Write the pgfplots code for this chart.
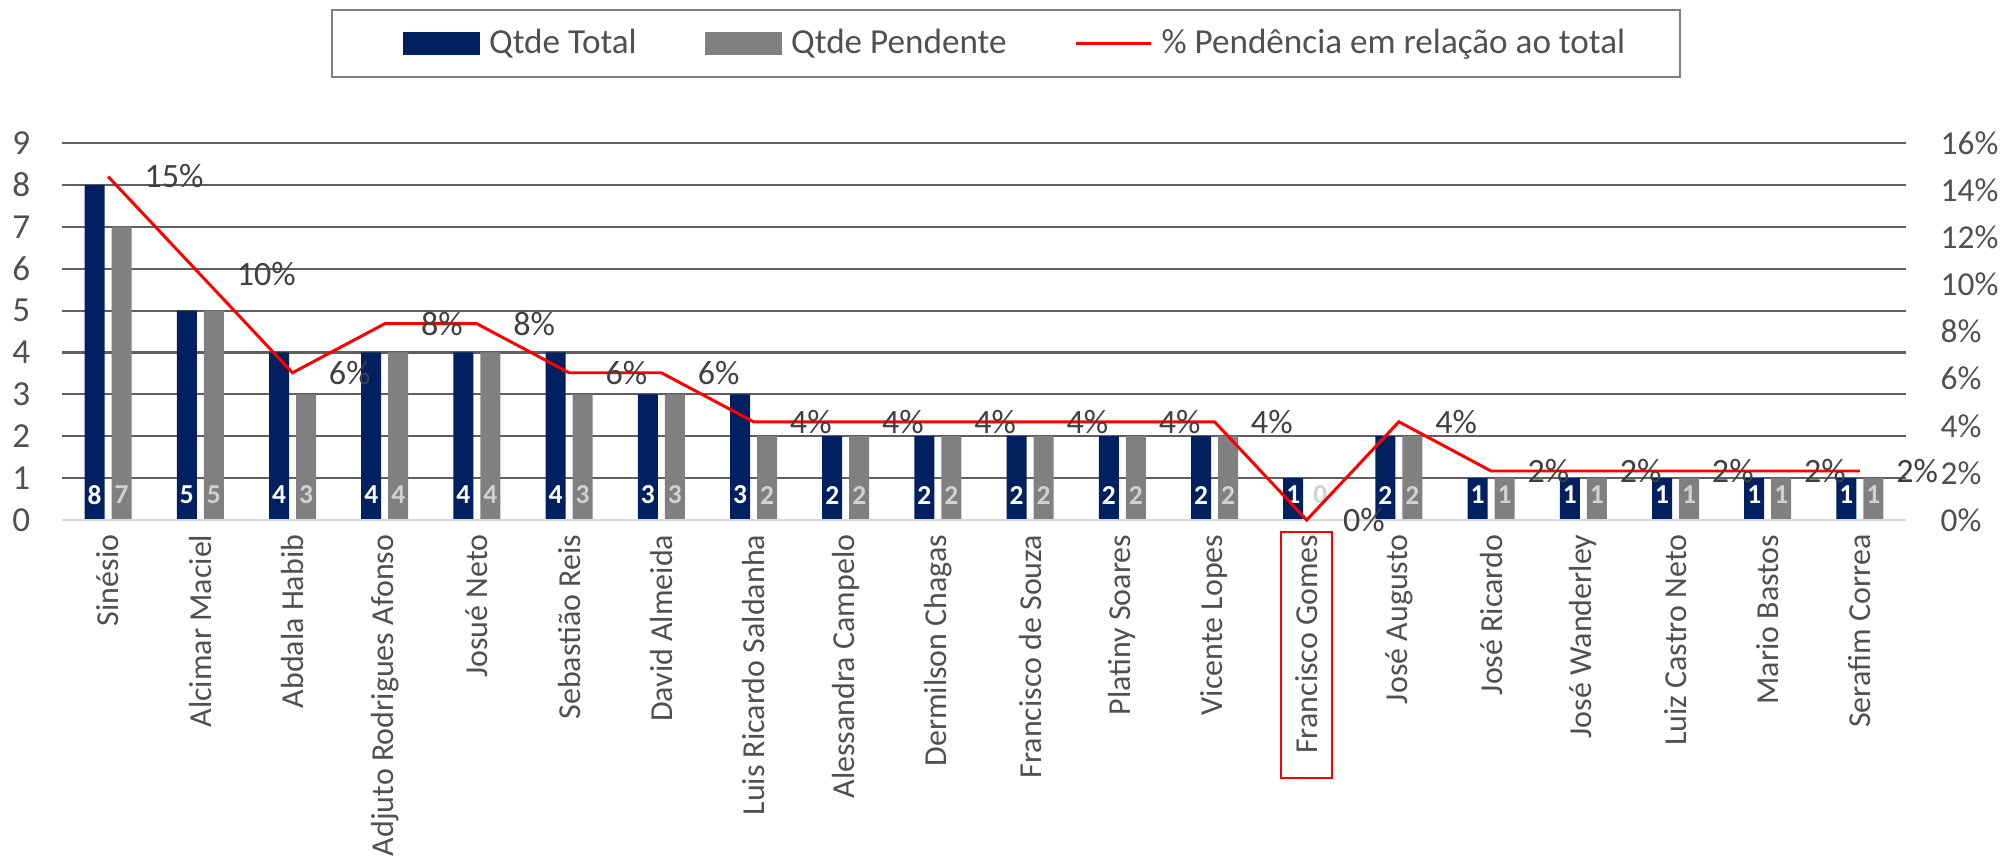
\documentclass[border=0pt]{standalone}
\usepackage{fontspec}
\setmainfont{Carlito}
\usepackage{pgfplots}
\usepackage{pgfplotstable}
\pgfplotsset{compat=1.18}

\definecolor{navy}{HTML}{002060}
\definecolor{bargray}{HTML}{808080}
\definecolor{tickgray}{HTML}{505050}
\definecolor{lblgray}{HTML}{404040}
\definecolor{gridgray}{HTML}{5F5F5F}
\definecolor{basegray}{HTML}{D9D9D9}
\definecolor{boxgray}{HTML}{7F7F7F}

% idx, Qtde Total, Qtde Pendente, % pendencia
\pgfplotstableread{
idx total pend pct
0  8 7 14.58
1  5 5 10.42
2  4 3 6.25
3  4 4 8.33
4  4 4 8.33
5  4 3 6.25
6  3 3 6.25
7  3 2 4.17
8  2 2 4.17
9  2 2 4.17
10 2 2 4.17
11 2 2 4.17
12 2 2 4.17
13 1 0 0
14 2 2 4.17
15 1 1 2.08
16 1 1 2.08
17 1 1 2.08
18 1 1 2.08
19 1 1 2.08
}\datatable

\pgfplotsset{
  base/.style={
    scale only axis, width=184.4mm, height=37.7mm,
    at={(0,0)}, anchor=south west,
    xmin=-0.5, xmax=19.5, clip=false,
    axis line style={draw=none}, tick style={draw=none},
    /pgf/number format/assume math mode=true,
  },
}

\begin{document}
\begin{tikzpicture}
\useasboundingbox (-6.2mm,-33.6mm) rectangle (194.0mm,52.0mm);

\begin{axis}[base,
  ymin=0, ymax=9, ytick={0,...,9},
  ymajorgrids, grid style={gridgray, line width=0.6pt},
  xtick={0,...,19},
  xticklabels={Sinésio, Alcimar Maciel, Abdala Habib, Adjuto Rodrigues Afonso,
    Josué Neto, Sebastião Reis, David Almeida, Luis Ricardo Saldanha,
    Alessandra Campelo, Dermilson Chagas, Francisco de Souza, Platiny Soares,
    Vicente Lopes, Francisco Gomes, José Augusto, José Ricardo, José Wanderley,
    Luiz Castro Neto, Mario Bastos, Serafim Correa},
  xticklabel style={rotate=90, anchor=east, inner sep=0pt,
    font=\fontsize{9.1}{10}\selectfont, text=tickgray},
  xticklabel shift=1.4mm,
  yticklabel style={anchor=east, inner sep=0pt,
    font=\fontsize{10}{11}\selectfont, text=tickgray},
  yticklabel shift=3.1mm,
]
\addplot[ybar, bar width=2mm, bar shift=-1.35mm, fill=navy, draw=none]
  table[x=idx, y=total]{\datatable};
\addplot[ybar, bar width=2mm, bar shift=1.35mm, fill=bargray, draw=none]
  table[x=idx, y=pend]{\datatable};
\draw[basegray, line width=0.8pt] (axis cs:-0.5,0) -- (axis cs:19.5,0);

% valores dentro das barras
\addplot[draw=none, mark=none, nodes near coords, point meta=explicit,
  nodes near coords style={anchor=center, xshift=-1.35mm, yshift=2.5mm,
    inner sep=0pt, text=white, font=\bfseries\fontsize{7.8}{8}\selectfont}]
  table[x=idx, y expr=0, meta=total]{\datatable};
\addplot[draw=none, mark=none, nodes near coords, point meta=explicit,
  nodes near coords style={anchor=center, xshift=1.35mm, yshift=2.5mm,
    inner sep=0pt, text=white!82!black, font=\bfseries\fontsize{7.8}{8}\selectfont}]
  table[x=idx, y expr=0, meta=pend]{\datatable};

\draw[red, line width=0.65pt]
  ([xshift=-2.55mm, yshift=-1.2mm]axis cs:13,0) rectangle
  ([xshift=2.55mm, yshift=-25.8mm]axis cs:13,0);
\end{axis}

\begin{axis}[base,
  ymin=0, ymax=16, ytick={0,2,...,16},
  axis y line*=right, axis x line=none,
  yticklabel={\pgfmathprintnumber{\tick}\%},
  yticklabel style={inner sep=0pt, font=\fontsize{9.5}{10}\selectfont, text=tickgray},
  yticklabel shift=3.4mm,
  legend columns=3,
  legend cell align=left,
  legend style={at={(0.18438,1.2639)}, anchor=west, draw=none, fill=none,
    inner sep=0pt, font=\fontsize{10}{12}\selectfont, text=tickgray,
    nodes={inner sep=0pt},
    /tikz/every odd column/.append style={column sep=0.9mm},
    /tikz/every even column/.append style={column sep=6.8mm}},
]
\draw[boxgray, line width=0.7pt]
  (rel axis cs:0.14642,1.35279) rectangle (rel axis cs:0.87744,1.17507);

\addlegendimage{legend image code/.code={\fill[navy] (0mm,-1.05mm) rectangle (7.6mm,1.05mm);}}
\addlegendentry{Qtde Total}
\addlegendimage{legend image code/.code={\fill[bargray] (0mm,-1.05mm) rectangle (7.6mm,1.05mm);}}
\addlegendentry{Qtde Pendente}
\addlegendimage{legend image code/.code={\draw[red, line width=0.85pt] (0mm,0mm) -- (7.5mm,0mm);}}
\addlegendentry{\% Pendência em relação ao total}

\addplot[forget plot, red, line width=0.85pt, mark=none,
  point meta=y,
  nodes near coords={\pgfmathprintnumber[fixed, precision=0]{\pgfplotspointmeta}\%},
  nodes near coords style={anchor=west, xshift=3.5mm, inner sep=0pt,
    text=lblgray, font=\fontsize{9.7}{10}\selectfont}]
  table[x=idx, y=pct]{\datatable};
\end{axis}
\end{tikzpicture}
\end{document}
